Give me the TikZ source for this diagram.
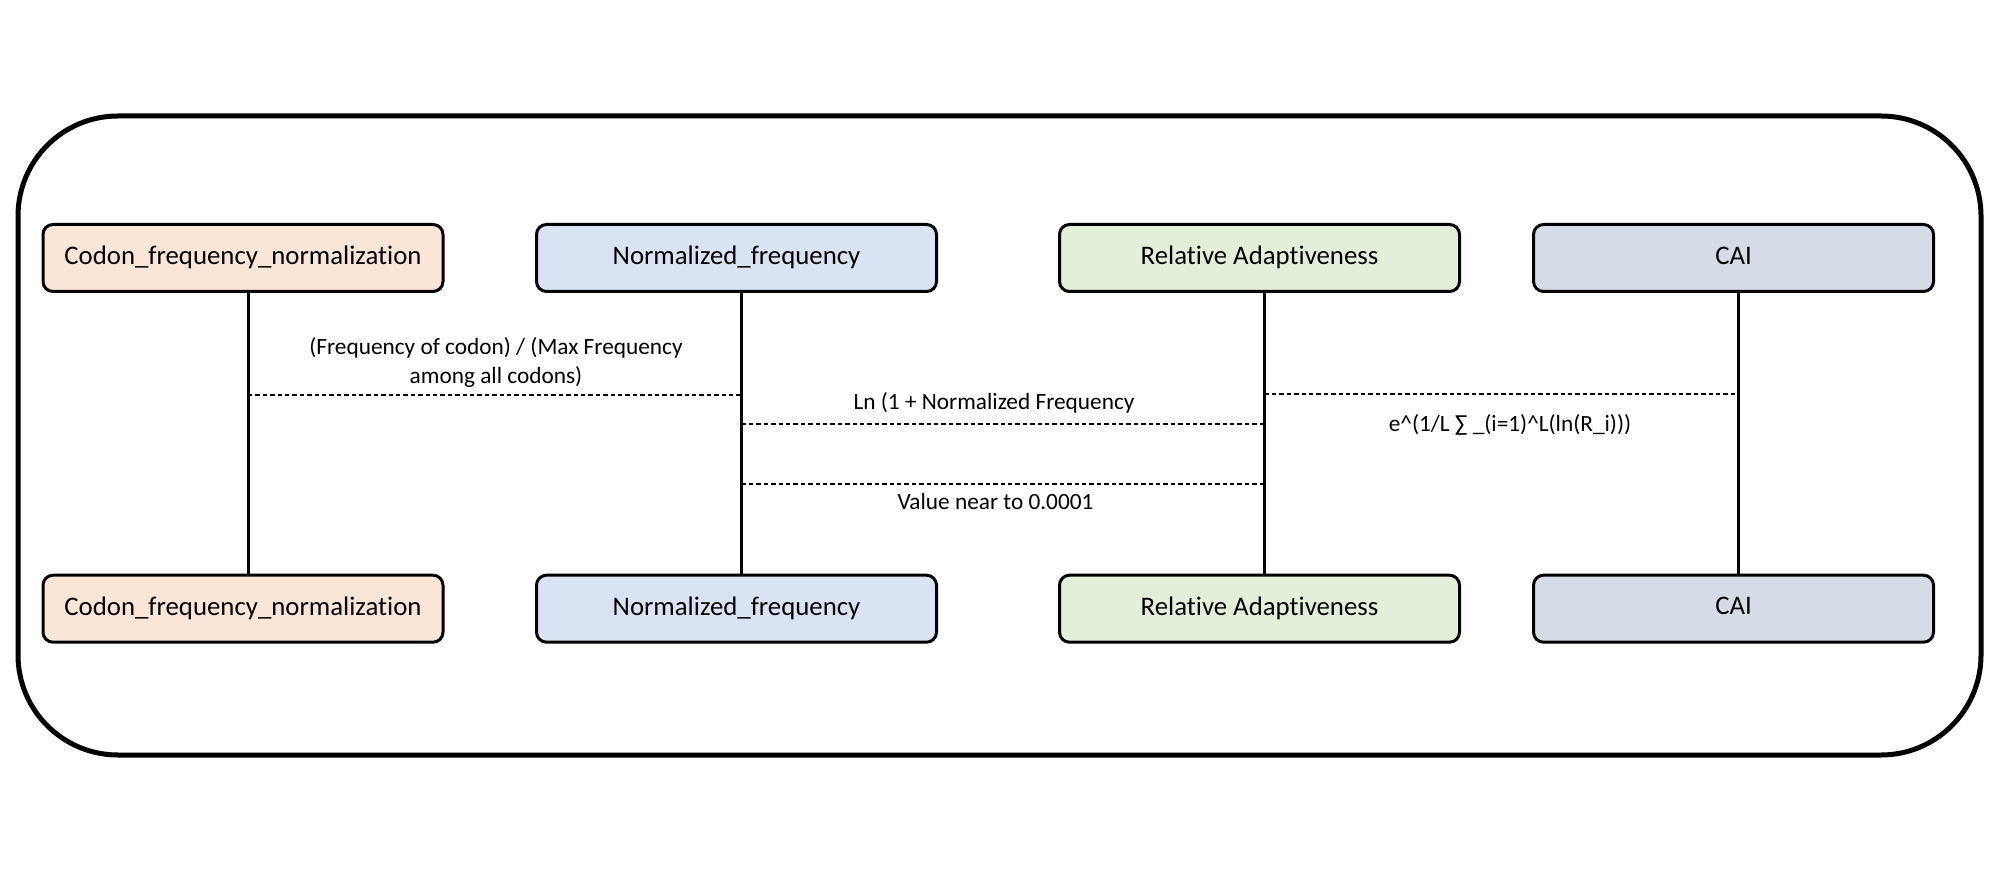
\documentclass[tikz,border=0pt]{standalone}
\usepackage{fontspec}
\setmainfont{Carlito}[Ligatures=NoCommon]
\usetikzlibrary{calc}
\definecolor{cpeach}{HTML}{FBE5D6}
\definecolor{cblue}{HTML}{DAE3F3}
\definecolor{cgreen}{HTML}{E2F0D9}
\definecolor{cgray}{HTML}{D6DCE5}
\tikzset{
  actor/.style={draw=black, line width=1.5pt, rounded corners=5pt,
    minimum width=200pt, minimum height=33.5pt, inner sep=0pt,
    font=\fontsize{13.4}{15}\selectfont},
  lifeline/.style={line width=1.5pt},
  msg/.style={line width=0.65pt, dash pattern=on 2.2pt off 1.5pt},
  msglabel/.style={font=\fontsize{11.65}{14.5}\selectfont, inner sep=0pt, align=center},
  frame/.style={draw=black, line width=2.5pt, rounded corners=50pt}
}
\newcommand{\boxtext}[1]{\raisebox{2.6pt}{#1}}
\begin{document}
\begin{tikzpicture}[x=0.5pt, y=-0.5pt]
\useasboundingbox (0,0) rectangle (2000,881);
\draw[frame] (18,116) rectangle (1981,755);
% top actors
\node[actor, fill=cpeach] (t1) at (243,258) {\boxtext{Codon\_frequency\_normalization}};
\node[actor, fill=cblue]  (t2) at (736.5,258) {\boxtext{Normalized\_frequency}};
\node[actor, fill=cgreen] (t3) at (1259.5,258) {\boxtext{Relative Adaptiveness}};
\node[actor, fill=cgray]  (t4) at (1733.5,258) {\boxtext{CAI}};
% bottom actors
\node[actor, fill=cpeach] (b1) at (243,608.7) {\boxtext{Codon\_frequency\_normalization}};
\node[actor, fill=cblue]  (b2) at (736.5,608.7) {\boxtext{Normalized\_frequency}};
\node[actor, fill=cgreen] (b3) at (1259.5,608.7) {\boxtext{Relative Adaptiveness}};
\node[actor, fill=cgray]  (b4) at (1733.5,608.7) {\boxtext{CAI}};
% lifelines
\foreach \i in {1,2,3,4}{
  \coordinate (l\i) at ([xshift=2.5pt]t\i.south);
  \draw[lifeline] (l\i) -- ([xshift=2.5pt]b\i.north);
}
% messages
\draw[msg] (l1 |- 0,395) -- (l2 |- 0,395);
\draw[msg] (l2 |- 0,424) -- (l3 |- 0,424);
\draw[msg] (l2 |- 0,484) -- (l3 |- 0,484);
\draw[msg] (l3 |- 0,394) -- (l4 |- 0,394);
% labels
\node[msglabel] (m1) at (496,362) {(Frequency of codon) / (Max Frequency\\among all codons)};
\node[msglabel] (m2) at (994,403) {Ln (1 + Normalized Frequency};
\node[msglabel] (m3) at (995.5,502) {Value near to 0.0001};
\node[msglabel] (m4) at (1510,425) {e\^{}(1/L ∑ \_(i=1)\^{}L(ln(R\_i)))};
\end{tikzpicture}
\end{document}
